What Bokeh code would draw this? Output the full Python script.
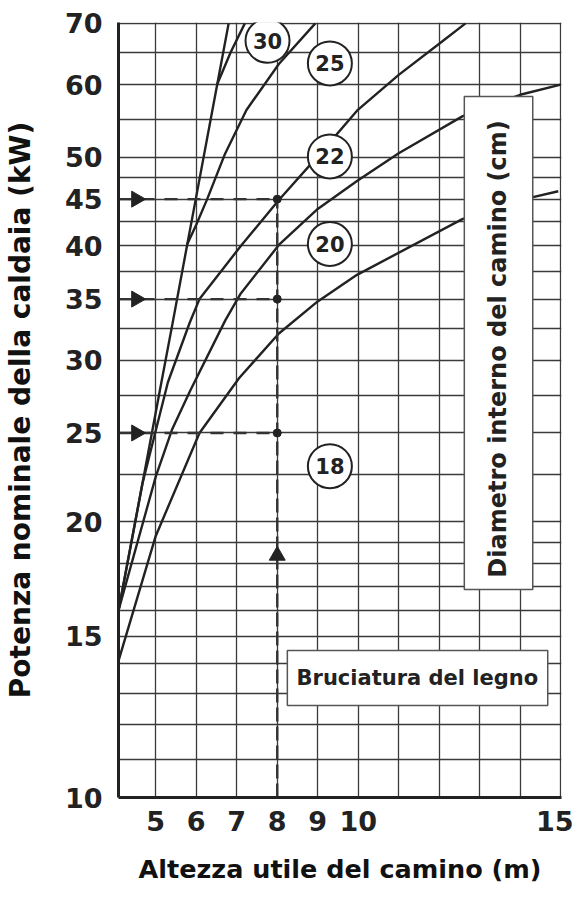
from bokeh.plotting import figure
from bokeh.models import FixedTicker, Range1d, PrintfTickFormatter
from bokeh.core.properties import value
from bokeh.embed import file_html
from bokeh.resources import INLINE
import math

# ---------------- data ----------------
X_TICKS = [5, 6, 7, 8, 9, 10, 15]
X_GRID = [5, 6, 7, 8, 9, 10, 11, 12, 13, 14, 15]
Y_TICKS = [10, 15, 20, 25, 30, 35, 40, 45, 50, 60, 70]
Y_GRID = [11, 12, 13, 14, 15, 16, 17, 18, 19, 20, 22.5, 25, 27.5, 30, 32.5,
          35, 37.5, 40, 42.5, 45, 47.5, 50, 55, 60, 65, 70]

# steep limit line (left)
LIMIT_X = [4.08, 4.67, 5.10, 5.43, 5.78, 5.98, 6.52, 6.80]
LIMIT_Y = [16.0, 22.0, 27.8, 33.2, 40.2, 44.8, 60.1, 70.0]

# chimney diameter curves (cm) : height (m) -> power (kW)
D30_X = [6.52, 6.85, 7.20]
D30_Y = [60.1, 65.1, 70.0]

D25_X = [5.78, 6.00, 6.27, 6.70, 7.24, 8.04, 8.94]
D25_Y = [40.2, 42.2, 45.0, 50.3, 56.3, 63.2, 70.0]

D22_X = [4.08, 4.67, 5.30, 5.84, 6.08, 7.10, 8.04, 9.00, 9.97, 11.0, 12.0, 12.65]
D22_Y = [16.0, 22.0, 28.4, 33.0, 35.0, 40.0, 44.9, 50.1, 56.2, 61.5, 66.5, 70.0]

D20_X = [4.08, 5.00, 5.40, 5.85, 6.72, 7.10, 8.04, 9.00, 9.97, 11.0, 12.57, 14.0, 15.0]
D20_Y = [16.0, 22.4, 25.2, 27.8, 33.2, 35.5, 40.1, 43.9, 47.1, 50.5, 55.4, 58.5, 60.0]

D18_X = [4.08, 5.00, 6.08, 7.06, 8.04, 9.00, 9.97, 12.57, 14.29, 14.94]
D18_Y = [14.1, 19.3, 25.0, 28.7, 32.1, 34.8, 37.2, 42.8, 45.2, 45.9]

DIAM_LABELS = ["30", "25", "22", "20", "18"]
DIAM_LABEL_X = [7.76, 9.30, 9.30, 9.30, 9.30]
DIAM_LABEL_Y = [67.0, 63.3, 50.1, 40.2, 23.0]

EXAMPLE_HEIGHT = 8
EXAMPLE_POWERS = [25, 35, 45]

X_START, X_END = 4.08, 15.02
Y_START, Y_END = 10, 70.15

INK = "#222222"
FONT = "DejaVu Sans"

p = figure(width=573, height=895,
           x_range=Range1d(X_START, X_END), y_range=Range1d(Y_START, Y_END),
           y_axis_type="log", output_backend="svg", toolbar_location=None,
           min_border_left=115, min_border_right=12,
           min_border_top=22, min_border_bottom=98)
p.outline_line_color = None
p.background_fill_color = "white"
p.border_fill_color = "white"

# axes
p.xaxis.ticker = FixedTicker(ticks=X_TICKS, minor_ticks=[])
p.yaxis.ticker = FixedTicker(ticks=Y_TICKS, minor_ticks=[])
p.yaxis.formatter = PrintfTickFormatter(format="%d")
p.xaxis.formatter = PrintfTickFormatter(format="%d")
for ax in (p.xaxis, p.yaxis):
    ax.axis_line_color = INK
    ax.axis_line_width = 3
    ax.major_tick_line_color = None
    ax.minor_tick_line_color = None
    ax.major_label_text_font = FONT
    ax.major_label_text_font_style = "bold"
    ax.major_label_text_font_size = "27px"
    ax.major_label_text_color = INK
    ax.axis_label_text_font = FONT
    ax.axis_label_text_font_style = "bold"
    ax.axis_label_text_color = "#111111"
p.xaxis.major_label_standoff = 7
p.yaxis.major_label_standoff = 10

p.xaxis.axis_label = "Altezza utile del camino (m)"
p.xaxis.axis_label_text_font_size = "25.5px"
p.xaxis.axis_label_standoff = 20
p.yaxis.axis_label = "Potenza nominale della caldaia (kW)"
p.yaxis.axis_label_text_font_size = "28px"
p.yaxis.axis_label_standoff = 25

# grid
p.xgrid.ticker = FixedTicker(ticks=X_GRID, minor_ticks=[])
p.ygrid.ticker = FixedTicker(ticks=Y_GRID, minor_ticks=[])
for g in (p.xgrid, p.ygrid):
    g.grid_line_color = "#3a3a3a"
    g.grid_line_width = 1.3
    g.grid_line_alpha = 1.0

# curves
for xs, ys in [(LIMIT_X, LIMIT_Y), (D30_X, D30_Y), (D25_X, D25_Y),
               (D22_X, D22_Y), (D20_X, D20_Y), (D18_X, D18_Y)]:
    p.line(xs, ys, line_color=INK, line_width=2.4, line_join="round")

# example dashed guides
for pw in EXAMPLE_POWERS:
    p.line([X_START, EXAMPLE_HEIGHT], [pw, pw], line_color="#333333",
           line_width=2.4, line_dash="13 10")
p.line([EXAMPLE_HEIGHT, EXAMPLE_HEIGHT], [Y_START, max(EXAMPLE_POWERS)],
       line_color="#333333", line_width=2.4, line_dash="14 5")
p.scatter([EXAMPLE_HEIGHT] * len(EXAMPLE_POWERS), EXAMPLE_POWERS, size=8,
          fill_color=INK, line_color=INK)
p.scatter([4.52] * len(EXAMPLE_POWERS), EXAMPLE_POWERS, marker="triangle",
          size=16, angle=-math.pi / 2, fill_color=INK, line_color=INK)
p.scatter([EXAMPLE_HEIGHT], [18.37], marker="triangle", size=16,
          fill_color=INK, line_color=INK)

# text boxes
p.quad(left=[12.62], right=[14.31], top=[58.24], bottom=[16.87],
       fill_color="white", line_color="#555555", line_width=1.5)
p.text([13.46], [30.88], text=["Diametro interno del camino (cm)"],
       angle=math.pi / 2, text_font=value(FONT), text_font_style="bold",
       text_font_size="24px", text_color=INK, text_align="center",
       text_baseline="middle")
p.quad(left=[8.25], right=[14.68], top=[14.47], bottom=[12.60],
       fill_color="white", line_color="#555555", line_width=1.5)
p.text([11.46], [13.50], text=["Bruciatura del legno"],
       text_font=value(FONT), text_font_style="bold",
       text_font_size="21px", text_color=INK, text_align="center",
       text_baseline="middle")

# diameter circles
p.scatter(DIAM_LABEL_X, DIAM_LABEL_Y, size=44, fill_color="white",
          line_color=INK, line_width=2)
p.text(DIAM_LABEL_X, DIAM_LABEL_Y, text=DIAM_LABELS, text_font=value(FONT),
       text_font_style="bold", text_font_size="21px", text_color=INK,
       text_align="center", text_baseline="middle")

open("out.html", "w").write(file_html(p, INLINE))
